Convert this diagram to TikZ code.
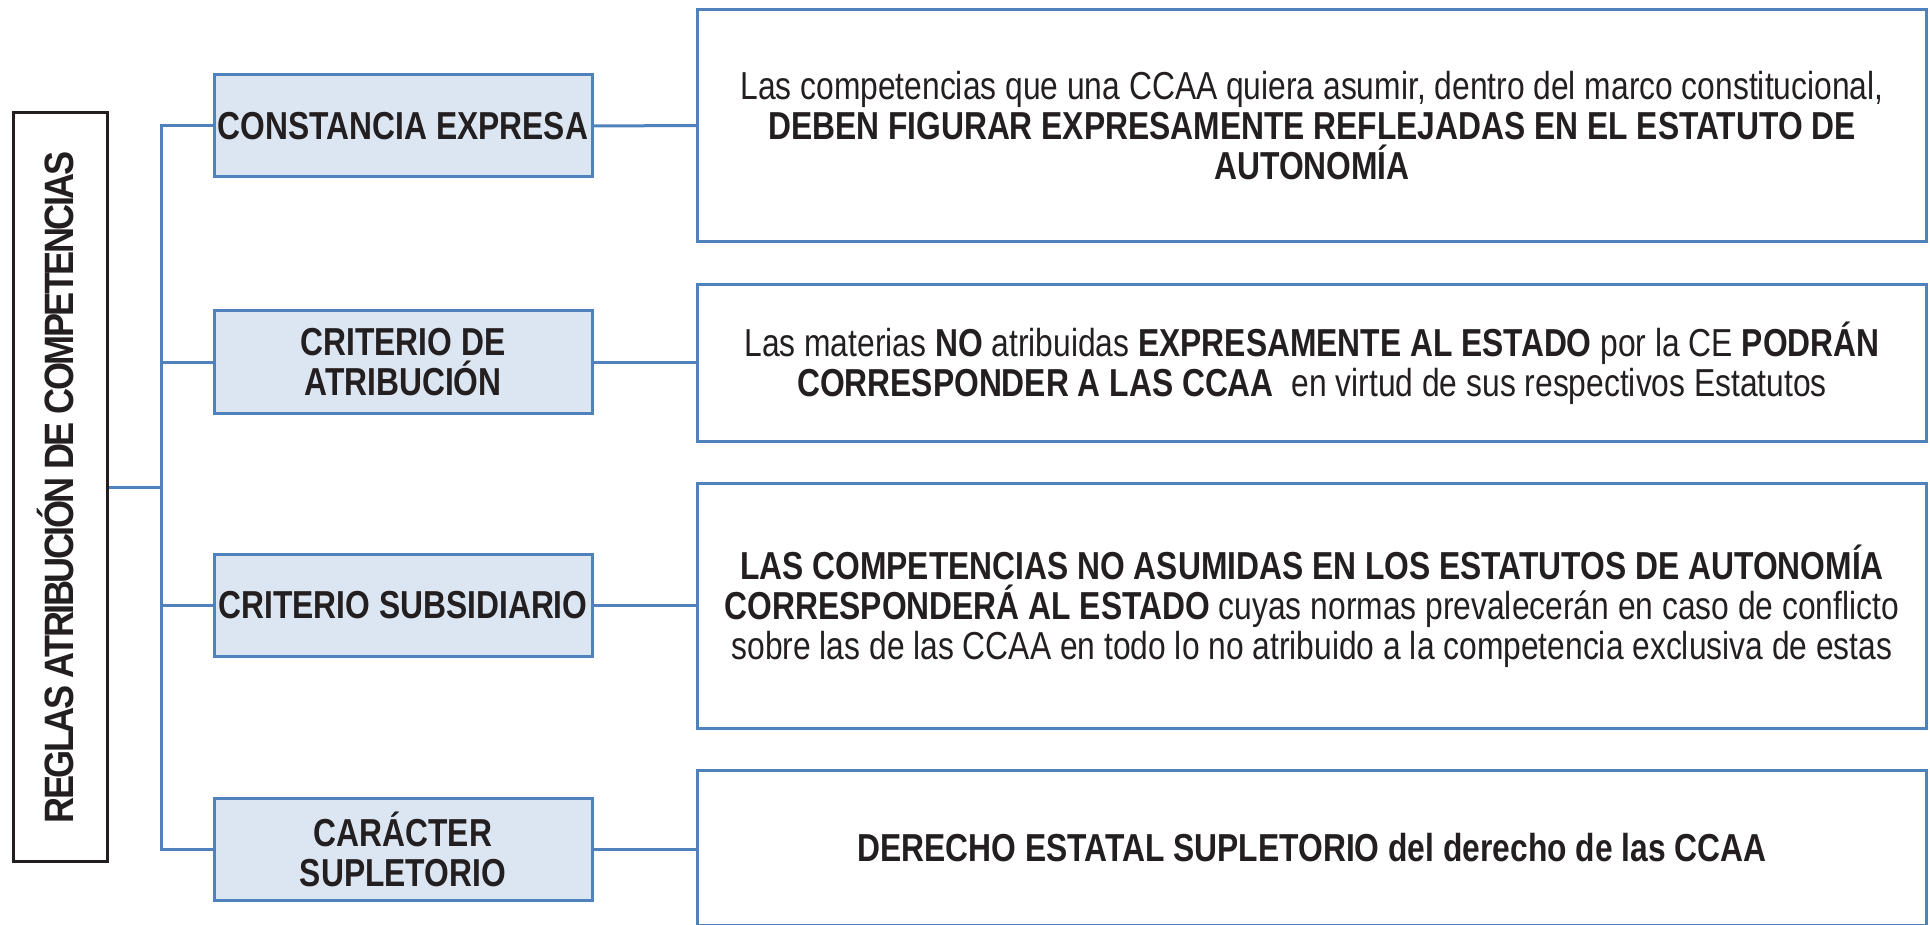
\documentclass[tikz,border=0pt]{standalone}
\usepackage{fontspec}
\usepackage{graphicx}
\setmainfont{Liberation Sans}[FakeStretch=0.815]
\newfontfamily\rotfont{Liberation Sans Bold}[LetterSpace=-7]
\definecolor{bl}{HTML}{4F81BD}
\definecolor{fillb}{HTML}{DCE6F2}
\definecolor{ink}{HTML}{231F20}
\tikzset{
  txt/.style={font=\fontsize{39}{40}\selectfont, text=ink, align=center, inner sep=0pt},
  mainbox/.style={draw=ink, line width=3pt, minimum width=94pt, minimum height=749pt, inner sep=0pt},
  catbox/.style={txt, font=\fontsize{39}{40}\selectfont\bfseries, draw=bl, fill=fillb, line width=3pt, minimum width=378pt, minimum height=102pt},
  descbox/.style={txt, draw=bl, line width=3pt, minimum width=1229pt},
  conn/.style={draw=bl, line width=3pt}
}
\begin{document}
\begin{tikzpicture}[x=1pt, y=-1pt]
\useasboundingbox (0,0) rectangle (1930,925);
\clip (0,0) rectangle (1930,925);
% main vertical box
\node[mainbox] (main) at (60.5,487) {};
\node[text=ink, inner sep=0pt, rotate=90, anchor=base, font=\rotfont\fontsize{41}{42}\selectfont] (maint) at (73,487.5) {\scalebox{0.88}[1]{REGLAS ATRIBUCIÓN DE COMPETENCIAS}};
% category boxes
\node[catbox] (b1) at (403,126) {CONSTANCIA EXPRESA};
\node[catbox] (b2) at (403,362) {CRITERIO DE\\ATRIBUCIÓN};
\node[catbox] (b3) at (403,605) {CRITERIO SUBSIDIARIO};
\node[catbox] (b4) at (403,849) {CARÁCTER\\SUPLETORIO};
% description boxes
\node[descbox, minimum height=232pt] (d1) at (1312,125.5) {Las competencias que una CCAA quiera asumir, dentro del marco constitucional,\\\textbf{DEBEN FIGURAR EXPRESAMENTE REFLEJADAS EN EL ESTATUTO DE}\\\textbf{AUTONOMÍA}};
\node[descbox, minimum height=157pt] (d2) at (1312,363) {Las materias \textbf{NO} atribuidas \textbf{EXPRESAMENTE AL ESTADO} por la CE \textbf{PODRÁN}\\\textbf{CORRESPONDER A LAS CCAA}\ \ en virtud de sus respectivos Estatutos};
\node[descbox, minimum height=245pt] (d3) at (1312,606) {\textbf{LAS COMPETENCIAS NO ASUMIDAS EN LOS ESTATUTOS DE AUTONOMÍA}\\\textbf{CORRESPONDERÁ AL ESTADO} cuyas normas prevalecerán en caso de conflicto\\sobre las de las CCAA en todo lo no atribuido a la competencia exclusiva de estas};
\node[descbox, minimum height=155pt] (d4) at (1312,848) {\textbf{DERECHO ESTATAL SUPLETORIO del derecho de las CCAA}};
% trunk
\coordinate (tk) at (161,0);
\draw[conn] (main.east) -- (main.east -| tk);
\draw[conn] (b1.west) -- (b1.west -| tk) -- (b4.west -| tk) -- (b4.west);
\draw[conn] (b2.west) -- (b2.west -| tk);
\draw[conn] (b3.west) -- (b3.west -| tk);
% links
\draw[conn] (b1.east) -- (d1.west);
\draw[conn] (b2.east) -- (b2.east -| d2.west);
\draw[conn] (b3.east) -- (b3.east -| d3.west);
\draw[conn] (b4.east) -- (b4.east -| d4.west);
\end{tikzpicture}
\end{document}
